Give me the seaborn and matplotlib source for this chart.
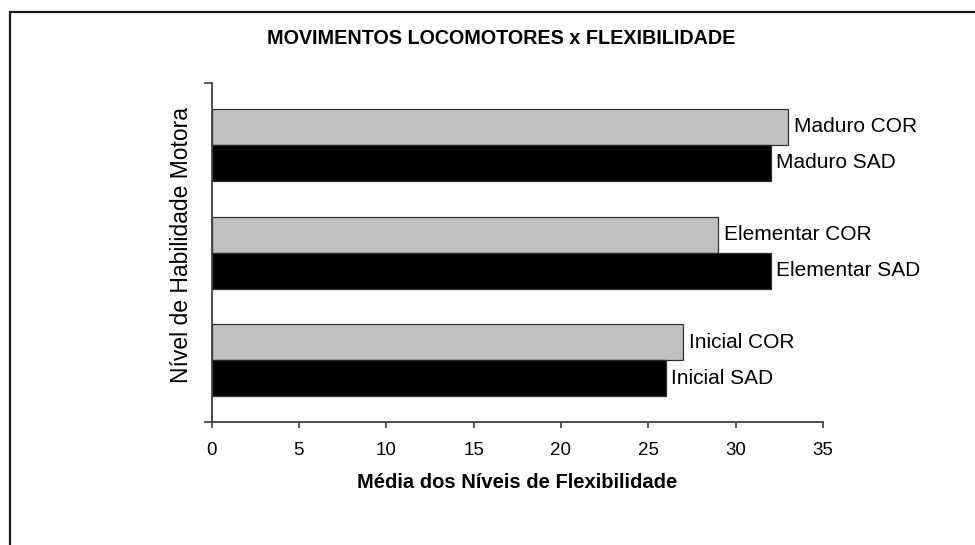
import matplotlib
matplotlib.use("Agg")
import matplotlib.pyplot as plt
from matplotlib.patches import Rectangle
import seaborn as sns
import pandas as pd

# ---- data ----
niveis = ["Maduro", "Elementar", "Inicial"]
grupos = ["COR", "SAD"]
valores_cor = [33, 29, 27]
valores_sad = [32, 32, 26]
x_ticks = [0, 5, 10, 15, 20, 25, 30, 35]

titulo = "MOVIMENTOS LOCOMOTORES x FLEXIBILIDADE"
xlabel = "Média dos Níveis de Flexibilidade"
ylabel = "Nível de Habilidade Motora"

df = pd.DataFrame({
    "nivel": niveis * 2,
    "grupo": ["COR"] * len(niveis) + ["SAD"] * len(niveis),
    "valor": valores_cor + valores_sad,
})

sns.set_style("white")
plt.rcParams["font.family"] = ["Liberation Sans", "DejaVu Sans"]
plt.rcParams["text.color"] = "black"
plt.rcParams["axes.labelcolor"] = "black"
plt.rcParams["xtick.color"] = "black"
plt.rcParams["ytick.color"] = "black"

fig = plt.figure(figsize=(9.75, 5.45), dpi=100)
ax = fig.add_axes([211.5 / 975, 1 - 422 / 545, (823 - 211.5) / 975, (422 - 82.7) / 545])

palette = {"COR": "#C0C0C0", "SAD": "#000000"}
sns.barplot(data=df, y="nivel", x="valor", hue="grupo", order=niveis,
            hue_order=grupos, palette=palette, orient="h", width=0.668,
            gap=0, edgecolor="#303030", linewidth=0.9, legend=False, ax=ax,
            saturation=1)

for cont, g in zip(ax.containers, grupos):
    ax.bar_label(cont, labels=[f"{n} {g}" for n in niveis], padding=4,
                 fontsize=15, color="black")

ax.set_xlim(0, 35)
ax.set_xticks(x_ticks)
ax.set_xticklabels([str(t) for t in x_ticks], fontsize=13.5)
ylims = (2.572, -0.578)
ax.set_yticks([ylims[1], ylims[0]])
ax.set_yticklabels([])
ax.set_ylim(*ylims)

for s in ["top", "right"]:
    ax.spines[s].set_visible(False)
for s in ["left", "bottom"]:
    ax.spines[s].set_color("#404040")
    ax.spines[s].set_linewidth(1.3)
ax.tick_params(axis="x", direction="out", length=4.5, width=1.2, color="#404040",
               pad=10, bottom=True, labelcolor="black")
ax.tick_params(axis="y", direction="out", length=5.5, width=1.2, color="#404040",
               left=True)

ax.set_xlabel(xlabel, fontsize=14.5, fontweight="bold", labelpad=10, color="black")
ax.set_ylabel(ylabel, fontsize=16.5, color="black")
ax.yaxis.set_label_coords(-0.031, 0.522)

fig.text(501 / 975, 1 - 38 / 545, titulo, fontsize=14.2, fontweight="bold",
         ha="center", va="center", color="black")

fig.patches.append(Rectangle((9.5 / 975, -0.1), 1.2, 1.1 - 12 / 545,
                             transform=fig.transFigure, fill=False,
                             edgecolor="#1a1a1a", linewidth=1.6))

fig.savefig("out.png", dpi=100, facecolor="white")
